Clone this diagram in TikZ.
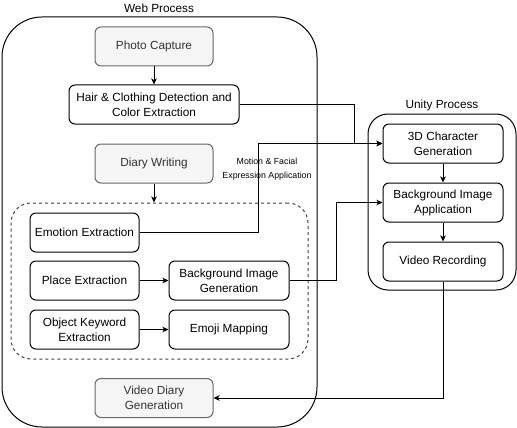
\documentclass[tikz,border=0pt]{standalone}
\usepackage{fontspec}
\setmainfont{Liberation Sans}
\usetikzlibrary{arrows.meta}

\definecolor{boxgray}{HTML}{F5F5F5}
\definecolor{linegray}{HTML}{666666}
\definecolor{textgray}{HTML}{333333}

\tikzset{
  stage/.style={draw, line width=1pt, rounded corners=6pt, fill=white,
    minimum width=109pt, minimum height=39pt, align=center, inner sep=1pt,
    font=\fontsize{11.8}{15}\selectfont},
  ioblock/.style={stage, draw=linegray, fill=boxgray, text=textgray, minimum width=118pt},
  flow/.style={line width=1pt, -{Stealth[length=6pt,width=5.5pt,inset=1.5pt]}}
}

\begin{document}
\begin{tikzpicture}[x=1pt,y=-1pt]
      \useasboundingbox (0,0) rectangle (517,428);

      % GROUPS
      \node[draw, line width=1pt, rounded corners=40pt, minimum width=315pt, minimum height=410pt] (web) at (159.5,222) {};
      \node[font=\fontsize{11.8}{15}\selectfont] (webtitle) at (159,8.5) {Web Process};
      \node[draw=black!75, line width=1pt, dash pattern=on 3pt off 3pt, rounded corners=20pt,
            minimum width=297pt, minimum height=156pt] (nlp) at (159.5,281) {};
      \node[draw, line width=1pt, rounded corners=20pt, minimum width=148pt, minimum height=176pt] (unity) at (442,202) {};
      \node[font=\fontsize{11.8}{15}\selectfont] (unitytitle) at (442,105.5) {Unity Process};

      % WEB SIDE
      \node[ioblock] (photo) at (154,46.5) {Photo Capture};
      \node[stage, minimum width=170pt] (hair) at (154,104.5) {Hair \& Clothing Detection and\\Color Extraction};
      \node[ioblock] (diary) at (154,163.5) {Diary Writing};
      \node[stage] (emo) at (84.5,232.5) {Emotion Extraction};
      \node[stage] (place) at (84.5,280.5) {Place Extraction};
      \node[stage] (obj) at (84.5,329.5) {Object Keyword\\Extraction};
      \node[stage, minimum width=120pt] (bggen) at (229,280.5) {Background Image\\Generation};
      \node[stage, minimum width=120pt] (emoji) at (229,329.5) {Emoji Mapping};
      \node[ioblock] (vdiary) at (154,398) {Video Diary\\Generation};

      % UNITY SIDE
      \node[stage, minimum width=120pt] (char) at (443,143.5) {3D Character\\Generation};
      \node[stage, minimum width=120pt] (bgapp) at (443,202.5) {Background Image\\Application};
      \node[stage, minimum width=120pt] (rec) at (443,261.5) {Video Recording};

      % ARROWS
      \draw[flow] (photo) -- (hair);
      \draw[flow] (diary.south) -- (diary.south |- nlp.north);
      \draw[flow] (place) -- (bggen);
      \draw[flow] (obj) -- (emoji);
      \draw[flow] (char) -- (bgapp);
      \draw[flow] (bgapp) -- (rec);
      \draw[flow] (hair.east) -- ++(115,0) |- (char.west);
      \coordinate (motion) at (258,143.5);
      \draw[flow] (emo.east) -| (motion) -- (char.west);
      \node[font=\fontsize{8.8}{14}\selectfont, align=center] (motionlabel) at (267,169.5) {Motion \& Facial\\Expression Application};
      \draw[flow] (bggen.east) -- ++(47,0) |- (bgapp.west);
      \draw[flow] (rec.south) |- (vdiary.east);
    \end{tikzpicture}
\end{document}
